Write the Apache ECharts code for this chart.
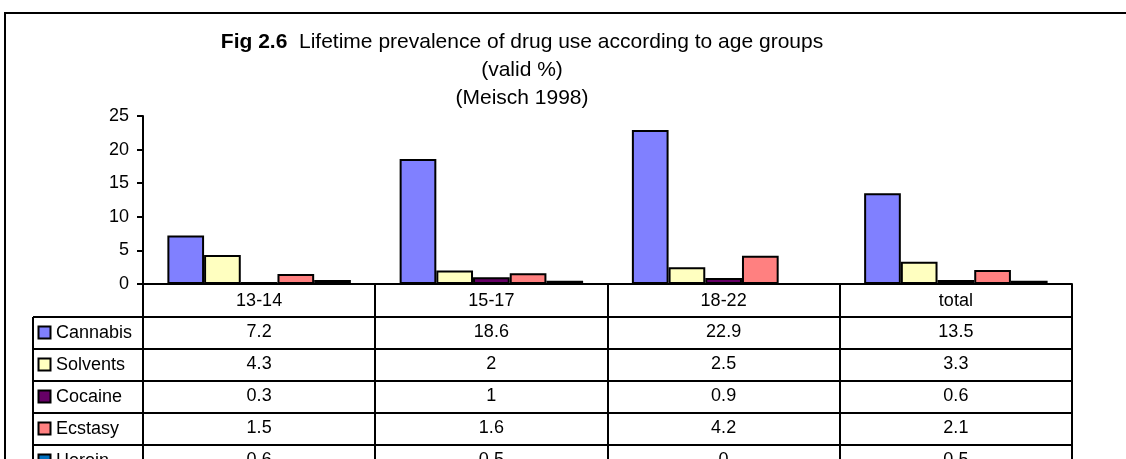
<!DOCTYPE html>
<html>
<head>
<meta charset="utf-8">
<script src="https://cdn.jsdelivr.net/npm/echarts@6/dist/echarts.min.js"></script>
<style>
  html, body { margin: 0; padding: 0; background: #fff; }
  #chart { width: 1126px; height: 459px; }
</style>
</head>
<body>
<div id="chart"></div>
<script>
// data
var categories = ['13-14', '15-17', '18-22', 'total'];
var seriesNames = ['Cannabis', 'Solvents', 'Cocaine', 'Ecstasy', 'Heroin'];
var cannabis = [7.2, 18.6, 22.9, 13.5];
var solvents = [4.3, 2, 2.5, 3.3];
var cocaine = [0.3, 1, 0.9, 0.6];
var ecstasy = [1.5, 1.6, 4.2, 2.1];
var heroin = [0.6, 0.5, 0, 0.5];
var values = [cannabis, solvents, cocaine, ecstasy, heroin];
var colors = ['#8080ff', '#ffffc0', '#660066', '#ff8080', '#0070c0'];

var font = 'Arial, "Liberation Sans", sans-serif';

var dom = document.getElementById('chart');
var myChart = echarts.init(dom);

// plot area
var gLeft = 143, gTop = 116, gWidth = 929, gHeight = 168;
var axisY = gTop + gHeight;
var headerH = 33, rowH = 32;
var tableLeft = 33, tableBottom = 480;
var colW = gWidth / categories.length;

var graphics = [];
// outer frame
graphics.push({
    type: 'rect', silent: true,
    shape: { x: 5, y: 13, width: 1300, height: 700 },
    style: { fill: 'none', stroke: '#000', lineWidth: 2 }
});
// column dividers
for (var c = 0; c <= categories.length; c++) {
    var x = Math.round(gLeft + c * colW);
    graphics.push({
        type: 'line', silent: true,
        shape: { x1: x, y1: axisY, x2: x, y2: tableBottom },
        style: { stroke: '#000', lineWidth: 2 }
    });
}
// legend column left edge
graphics.push({
    type: 'line', silent: true,
    shape: { x1: tableLeft, y1: axisY + headerH, x2: tableLeft, y2: tableBottom },
    style: { stroke: '#000', lineWidth: 2 }
});
// rows
for (var r = 0; r < seriesNames.length; r++) {
    var rowTop = axisY + headerH + r * rowH;
    graphics.push({
        type: 'line', silent: true,
        shape: { x1: tableLeft, y1: rowTop, x2: Math.round(gLeft + gWidth), y2: rowTop },
        style: { stroke: '#000', lineWidth: 2 }
    });
    graphics.push({
        type: 'rect', silent: true,
        shape: { x: 38.5, y: rowTop + 9.5, width: 12, height: 12 },
        style: { fill: colors[r], stroke: '#000', lineWidth: 2 }
    });
    graphics.push({
        type: 'text', silent: true,
        style: {
            x: 56, y: rowTop + rowH / 2, text: seriesNames[r],
            fontSize: 18, fontFamily: font, fill: '#000',
            verticalAlign: 'middle', align: 'left'
        }
    });
    for (var c2 = 0; c2 < categories.length; c2++) {
        graphics.push({
            type: 'text', silent: true,
            style: {
                x: gLeft + (c2 + 0.5) * colW, y: rowTop + rowH / 2 - 1,
                text: String(values[r][c2]),
                fontSize: 18, fontFamily: font, fill: '#000',
                verticalAlign: 'middle', align: 'center'
            }
        });
    }
}

var series = seriesNames.map(function (name, i) {
    return {
        name: name,
        type: 'bar',
        data: values[i],
        barGap: '0%',
        barCategoryGap: '21%',
        itemStyle: { color: colors[i], borderColor: '#000', borderWidth: 2 }
    };
});

option = {
    animation: false,
    backgroundColor: '#fff',
    title: {
        text: '{b|Fig 2.6}  Lifetime prevalence of drug use according to age groups\n(valid %)\n(Meisch 1998)',
        left: 522,
        top: 28,
        textAlign: 'center',
        padding: 0,
        textStyle: {
            fontFamily: font,
            fontSize: 21,
            fontWeight: 'normal',
            color: '#000',
            lineHeight: 28,
            rich: {
                b: { fontFamily: font, fontSize: 21, fontWeight: 'bold', color: '#000', lineHeight: 28 }
            }
        }
    },
    grid: {
        left: gLeft,
        top: gTop,
        width: gWidth,
        height: gHeight
    },
    xAxis: {
        type: 'category',
        data: categories,
        axisLine: { lineStyle: { color: '#000', width: 2 } },
        axisTick: { show: false },
        axisLabel: {
            margin: 8,
            fontSize: 18,
            fontFamily: font,
            color: '#000'
        }
    },
    yAxis: {
        type: 'value',
        min: 0,
        max: 25,
        interval: 5,
        axisLine: { show: true, lineStyle: { color: '#000', width: 2 } },
        axisTick: { show: true, length: 6, lineStyle: { color: '#000', width: 2 } },
        splitLine: { show: false },
        axisLabel: {
            margin: 14,
            fontSize: 18,
            fontFamily: font,
            color: '#000'
        }
    },
    graphic: graphics,
    series: series
};

if (option && typeof option === "object") {
    myChart.setOption(option, true);
}
</script>
</body>
</html>
